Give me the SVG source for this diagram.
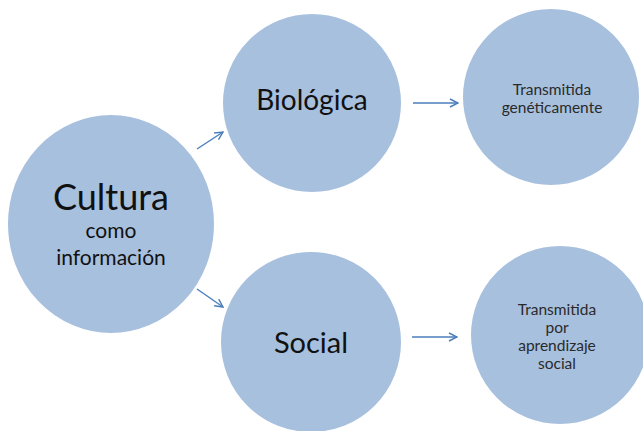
<svg xmlns="http://www.w3.org/2000/svg" width="643" height="431" viewBox="0 0 643 431">
<style>
.node{fill:#a7c0de;stroke:#ffffff;stroke-width:2}
.t{font-family:Lato,"Liberation Sans",sans-serif;fill:#111;text-anchor:middle}
.s{font-family:Lato,"Liberation Sans",sans-serif;fill:#2a2a2a;text-anchor:middle;font-size:15.5px}
.c{stroke:#4a7ebb;stroke-width:1.4;fill:none}
</style>
<defs>
<marker id="ah" viewBox="0 0 10 10" refX="9" refY="5" markerWidth="10" markerHeight="10" markerUnits="userSpaceOnUse" orient="auto">
<path d="M1,1 L9,5 L1,9" fill="none" stroke="#4a7ebb" stroke-width="1.4"/>
</marker>
</defs>
<rect width="643" height="431" fill="#ffffff"/>
<g id="cultura">
<ellipse class="node" cx="111" cy="224" rx="104" ry="110"/>
<text class="t" x="111" y="210" font-size="36">Cultura</text>
<text class="t" x="111" y="238" font-size="21">como</text>
<text class="t" x="111" y="265" font-size="21">información</text>
</g>
<g id="biologica">
<circle class="node" cx="312" cy="103" r="90"/>
<text class="t" x="312" y="110" font-size="28">Biológica</text>
</g>
<g id="genetica">
<circle class="node" cx="551" cy="97" r="89"/>
<text class="s" x="552" y="95">Transmitida</text>
<text class="s" x="552" y="113">genéticamente</text>
</g>
<g id="social">
<circle class="node" cx="311" cy="342" r="91"/>
<text class="t" x="311" y="353" font-size="29">Social</text>
</g>
<g id="aprendizaje">
<circle class="node" cx="560" cy="335" r="90"/>
<text class="s" x="557" y="315">Transmitida</text>
<text class="s" x="557" y="333">por</text>
<text class="s" x="557" y="351">aprendizaje</text>
<text class="s" x="557" y="369">social</text>
</g>
<g id="connectors">
<line class="c" x1="197" y1="149" x2="223" y2="132" marker-end="url(#ah)"/>
<line class="c" x1="197" y1="289" x2="223" y2="307" marker-end="url(#ah)"/>
<line class="c" x1="413" y1="103" x2="458" y2="103" marker-end="url(#ah)"/>
<line class="c" x1="412" y1="337" x2="457" y2="337" marker-end="url(#ah)"/>
</g>
</svg>
